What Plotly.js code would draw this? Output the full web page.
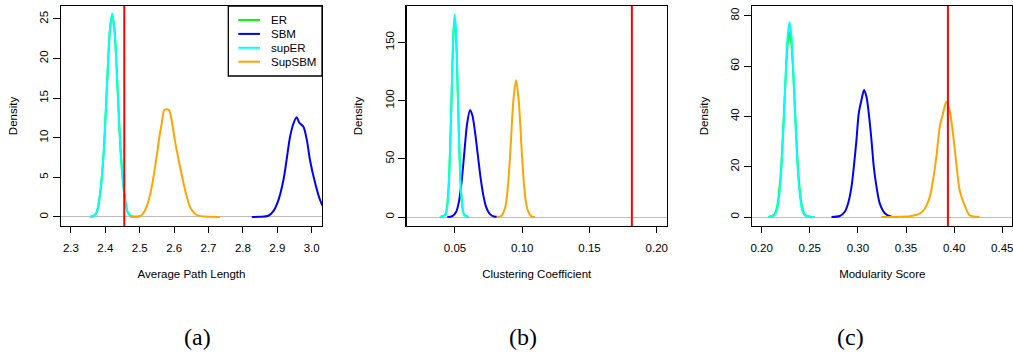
<!DOCTYPE html>
<html>
<head>
<meta charset="utf-8">
<script src="https://cdn.plot.ly/plotly-3.0.1.min.js"></script>
<style>html,body{margin:0;padding:0;background:#fff;}#chart{width:1013px;height:354px;}</style>
</head>
<body>
<div id="chart"></div>
<script>
// ---- data ----
const seriesNames = ["ER", "SBM", "supER", "SupSBM"];
const seriesColors = ["#00ff00", "#0000ff", "#00ffff", "#ffa500"];
const panelLabels = ["(a)", "(b)", "(c)"];
const xTitles = ["Average Path Length", "Clustering Coefficient", "Modularity Score"];
const yTitle = "Density";
const observed = [2.455, 0.1815, 0.3935];

// Panel (a): Average Path Length
const apl_ER_x = [2.355, 2.365, 2.375, 2.385, 2.395, 2.405, 2.413, 2.420, 2.427, 2.435, 2.445, 2.455, 2.465, 2.475, 2.485, 2.495];
const apl_ER_y = [0, 0.1, 0.6, 3.0, 8.0, 16.8, 23.4, 25.6, 23.4, 16.8, 8.0, 3.0, 0.6, 0.1, 0, 0];
const apl_supER_x = [2.355, 2.365, 2.375, 2.385, 2.395, 2.405, 2.413, 2.420, 2.427, 2.435, 2.445, 2.455, 2.465, 2.475, 2.485, 2.500];
const apl_supER_y = [0, 0.1, 0.6, 3.1, 8.1, 16.9, 23.5, 25.7, 23.3, 16.6, 7.9, 3.0, 0.6, 0.1, 0.02, 0];
const apl_SBM_x = [2.826, 2.850, 2.874, 2.888, 2.903, 2.918, 2.927, 2.937, 2.947, 2.956, 2.964, 2.976, 2.986, 2.995, 3.010, 3.024, 3.040, 3.060];
const apl_SBM_y = [0, 0.02, 0.15, 0.7, 2.1, 4.7, 7.2, 10.1, 11.8, 12.6, 11.9, 11.4, 9.7, 7.2, 4.3, 2.2, 0.8, 0.1];
const apl_SupSBM_x = [2.472, 2.491, 2.506, 2.520, 2.535, 2.549, 2.557, 2.564, 2.571, 2.578, 2.585, 2.593, 2.602, 2.617, 2.632, 2.646, 2.666, 2.690, 2.733];
const apl_SupSBM_y = [0, 0.05, 0.25, 1.3, 3.8, 7.6, 10.1, 11.8, 13.5, 13.6, 13.5, 12.2, 9.7, 6.4, 3.4, 1.3, 0.25, 0.05, 0];

// Panel (b): Clustering Coefficient
const cc_ER_x = [0.0388, 0.0428, 0.0448, 0.0463, 0.0478, 0.0488, 0.0498, 0.0508, 0.0518, 0.0533, 0.0548, 0.0568, 0.0600];
const cc_ER_y = [0, 2.2, 18, 56, 117, 155, 171, 156, 118, 56, 18, 2.2, 0];
const cc_supER_x = [0.0388, 0.0428, 0.0448, 0.0463, 0.0478, 0.0488, 0.0498, 0.0508, 0.0518, 0.0533, 0.0548, 0.0568, 0.0600];
const cc_supER_y = [0, 1.7, 16.4, 54.6, 119, 158, 174, 158, 119, 54.6, 16.4, 1.7, 0];
const cc_SBM_x = [0.0443, 0.0480, 0.0510, 0.0530, 0.0550, 0.0570, 0.0590, 0.0612, 0.0630, 0.0650, 0.0670, 0.0690, 0.0710, 0.0730, 0.0760, 0.0790, 0.0818];
const cc_SBM_y = [0, 0.7, 4.8, 13.7, 31, 56, 80, 92, 87, 72, 53, 34, 19, 9.2, 2.5, 0.5, 0];
const cc_SupSBM_x = [0.0809, 0.0844, 0.0874, 0.0894, 0.0914, 0.0934, 0.0954, 0.0974, 0.0994, 0.1014, 0.1034, 0.1064, 0.1094];
const cc_SupSBM_y = [0, 0.85, 8.6, 27, 61, 100, 117.5, 100, 61, 27, 8.6, 0.85, 0];

// Panel (c): Modularity Score
const mod_ER_x = [0.207, 0.213, 0.216, 0.219, 0.221, 0.223, 0.225, 0.227, 0.229, 0.231, 0.233, 0.235, 0.237, 0.239, 0.242, 0.245, 0.251, 0.255];
const mod_ER_y = [0, 0.9, 4, 13.3, 24.6, 39.8, 55.8, 68.6, 73.5, 68.6, 55.8, 39.8, 24.6, 13.3, 4, 0.9, 0, 0];
const mod_supER_x = [0.207, 0.213, 0.216, 0.219, 0.221, 0.223, 0.225, 0.227, 0.229, 0.231, 0.233, 0.235, 0.237, 0.239, 0.242, 0.245, 0.251, 0.255];
const mod_supER_y = [0, 0.56, 3.0, 11.3, 22.6, 38.7, 57, 71.8, 77.5, 71.8, 57, 38.7, 22.6, 11.3, 3.0, 0.56, 0, 0];
const mod_SBM_x = [0.2726, 0.2812, 0.2864, 0.2898, 0.2934, 0.2958, 0.2985, 0.3009, 0.3037, 0.3064, 0.3089, 0.3113, 0.3141, 0.3165, 0.3193, 0.3227, 0.3279, 0.3349, 0.3417];
const mod_SBM_y = [0, 0.4, 2.1, 5.4, 12.1, 20, 30.6, 41.2, 46.5, 50.5, 47.8, 41.2, 30.6, 20, 12.1, 5.4, 1.5, 0.1, 0];
const mod_SupSBM_x = [0.3245, 0.3440, 0.3538, 0.3600, 0.3642, 0.3694, 0.3746, 0.3780, 0.3815, 0.3850, 0.3884, 0.3919, 0.3953, 0.3988, 0.4023, 0.4057, 0.4109, 0.4161, 0.4264];
const mod_SupSBM_y = [0, 0.1, 0.3, 0.8, 1.3, 3.3, 7.9, 14.6, 23.8, 35.8, 41.1, 45.8, 42.4, 33.1, 21.2, 10.6, 4.6, 0.7, 0];

// tick values / labels
const xTickVals = [[2.3, 2.4, 2.5, 2.6, 2.7, 2.8, 2.9, 3.0], [0.05, 0.10, 0.15, 0.20], [0.20, 0.25, 0.30, 0.35, 0.40, 0.45]];
const xTickText = [["2.3", "2.4", "2.5", "2.6", "2.7", "2.8", "2.9", "3.0"], ["0.05", "0.10", "0.15", "0.20"], ["0.20", "0.25", "0.30", "0.35", "0.40", "0.45"]];
const yTickVals = [[0, 5, 10, 15, 20, 25], [0, 50, 100, 150], [0, 20, 40, 60, 80]];

// ---- build ----
const W = 1013, H = 354;
const panels = [
  {xs: [apl_ER_x, apl_SBM_x, apl_supER_x, apl_SupSBM_x], ys: [apl_ER_y, apl_SBM_y, apl_supER_y, apl_SupSBM_y],
   xr: [2.271, 3.030], yr: [-1.14, 26.64], px: [61, 322]},
  {xs: [cc_ER_x, cc_SBM_x, cc_supER_x, cc_SupSBM_x], ys: [cc_ER_y, cc_SBM_y, cc_supER_y, cc_SupSBM_y],
   xr: [0.0141, 0.2074], yr: [-7.7, 181.2], px: [406.7, 666.7]},
  {xs: [mod_ER_x, mod_SBM_x, mod_supER_x, mod_SupSBM_x], ys: [mod_ER_y, mod_SBM_y, mod_supER_y, mod_SupSBM_y],
   xr: [0.1903, 0.4604], yr: [-3.58, 83.9], px: [752.3, 1012.3]}
];
const yDom = [1 - 226 / H, 1 - 6 / H];
const font = {family: "Liberation Sans, Arial, sans-serif", size: 11.5, color: "#000"};

const traces = [];
const layout = {
  width: W, height: H, autosize: false,
  margin: {l: 0, r: 0, t: 0, b: 0},
  paper_bgcolor: "#fff", plot_bgcolor: "#fff",
  showlegend: false,
  font: font,
  shapes: [], annotations: []
};

panels.forEach((p, i) => {
  const sfx = i === 0 ? "" : String(i + 1);
  const xa = "x" + sfx, ya = "y" + sfx;
  for (let s = 0; s < 4; s++) {
    traces.push({
      type: "scatter", mode: "lines", name: seriesNames[s],
      x: p.xs[s], y: p.ys[s], xaxis: xa, yaxis: ya,
      line: {color: seriesColors[s], width: 2, shape: "spline", smoothing: 0.8},
      hoverinfo: "x+y+name"
    });
  }
  layout["xaxis" + sfx] = {
    domain: [p.px[0] / W, p.px[1] / W], anchor: ya, range: p.xr,
    showgrid: false, zeroline: false,
    showline: true, mirror: true, linecolor: "#000", linewidth: 1.3,
    ticks: "outside", ticklen: 6, tickwidth: 1, tickcolor: "#000",
    tickvals: xTickVals[i], ticktext: xTickText[i], tickfont: font,
    ticklabelstandoff: 5, ticklabeloverflow: "allow",
    title: {text: xTitles[i], font: font, standoff: 17}
  };
  layout["yaxis" + sfx] = {
    domain: yDom, anchor: xa, range: p.yr,
    showgrid: false, zeroline: true, zerolinecolor: "#bebebe", zerolinewidth: 1,
    showline: true, mirror: true, linecolor: "#000", linewidth: 1.3,
    ticks: "outside", ticklen: 7, tickwidth: 1, tickcolor: "#000",
    tickvals: yTickVals[i], tickangle: -90, tickfont: font, ticklabeloverflow: "allow",
    title: {text: yTitle, font: font, standoff: 18}
  };
  layout.shapes.push({
    type: "line", xref: xa, yref: ya + " domain", x0: observed[i], x1: observed[i], y0: 0, y1: 1,
    line: {color: "#ff0000", width: 2}, layer: "above"
  });
  layout.annotations.push({
    text: panelLabels[i], xref: "paper", yref: "paper",
    x: [197, 523, 850][i] / W, y: 1 - 337 / H, xanchor: "center", yanchor: "middle",
    showarrow: false, font: {family: "Liberation Serif, DejaVu Serif, serif", size: 24, color: "#000"}
  });
});

// legend box in panel (a), R style (topright)
const lgX0 = 228.3, lgX1 = 322, lgY0 = 6, lgY1 = 76;
layout.shapes.push({
  type: "rect", xref: "paper", yref: "paper",
  x0: lgX0 / W, x1: lgX1 / W, y0: 1 - lgY1 / H, y1: 1 - lgY0 / H,
  line: {color: "#000", width: 1.3}, fillcolor: "#fff", layer: "above"
});
seriesNames.forEach((nm, s) => {
  const yy = 1 - (20 + s * 13.9) / H;
  layout.shapes.push({
    type: "line", xref: "paper", yref: "paper", x0: 238.3 / W, x1: 260 / W, y0: yy, y1: yy,
    line: {color: seriesColors[s], width: 2}, layer: "above"
  });
  layout.annotations.push({
    text: nm, xref: "paper", yref: "paper", x: 269 / W, y: yy,
    xanchor: "left", yanchor: "middle", showarrow: false, font: font
  });
});

Plotly.newPlot("chart", traces, layout, {staticPlot: true, displayModeBar: false});
</script>
</body>
</html>
